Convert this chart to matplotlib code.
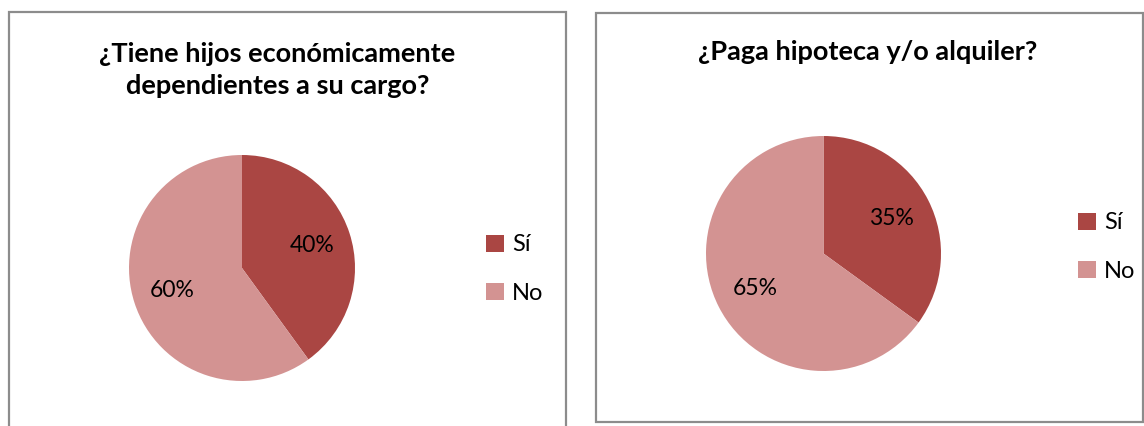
import matplotlib
matplotlib.use("Agg")
import matplotlib.pyplot as plt
from matplotlib.patches import Rectangle, Patch

plt.rcParams['font.family'] = ['Lato', 'DejaVu Sans']

categories = ["Sí", "No"]
titles = ["¿Tiene hijos económicamente\ndependientes a su cargo?",
          "¿Paga hipoteca y/o alquiler?"]
values_hijos = [40, 60]
values_hipoteca = [35, 65]
colors = ["#AA4643", "#D39392"]

W, H = 1144, 426
fig = plt.figure(figsize=(W / 100, H / 100), dpi=100)

def fx(x):
    return x / W

def fy(y):
    return 1 - y / H

# panel borders
for (x0, y0, x1, y1) in [(8.5, 12.5, 565.5, 440), (595.5, 12.5, 1143, 421.5)]:
    fig.patches.append(Rectangle((fx(x0), fy(y1)), fx(x1 - x0), (y1 - y0) / H,
                                 transform=fig.transFigure, fill=False,
                                 edgecolor="#8c8c8c", linewidth=1.6))

panels = [
    dict(vals=values_hijos, title=titles[0], cx=242, cy=268, r=113,
         tx=277.5, ty=70, lx=486, ly=269),
    dict(vals=values_hipoteca, title=titles[1], cx=823.5, cy=253.5, r=117.5,
         tx=868, ty=52, lx=1078, ly=247),
]

for p in panels:
    ax = fig.add_axes([fx(p['cx'] - p['r']), fy(p['cy'] + p['r']),
                       2 * p['r'] / W, 2 * p['r'] / H])
    wedges, texts, autotexts = ax.pie(
        p['vals'], colors=colors, startangle=90, counterclock=False,
        autopct=lambda v: f"{v:.0f}%", pctdistance=0.65,
        wedgeprops=dict(linewidth=0))
    for t in autotexts:
        t.set_fontsize(16.5)
        t.set_color("black")
    ax.set_xlim(-1, 1)
    ax.set_ylim(-1, 1)
    ax.set_aspect('auto')
    ax.axis('off')
    fig.text(fx(p['tx']), fy(p['ty']), p['title'], ha='center', va='center',
             fontsize=19.5, fontweight='bold', linespacing=1.35, color="black")
    handles = [Patch(facecolor=c, edgecolor='none') for c in colors]
    fig.legend(handles, categories, loc='center left',
               bbox_to_anchor=(fx(p['lx']), fy(p['ly'])),
               borderaxespad=0, borderpad=0,
               frameon=False, fontsize=17, handlelength=0.75, handleheight=0.75,
               handletextpad=0.35, labelspacing=1.15)

fig.savefig("out.png", dpi=100)
